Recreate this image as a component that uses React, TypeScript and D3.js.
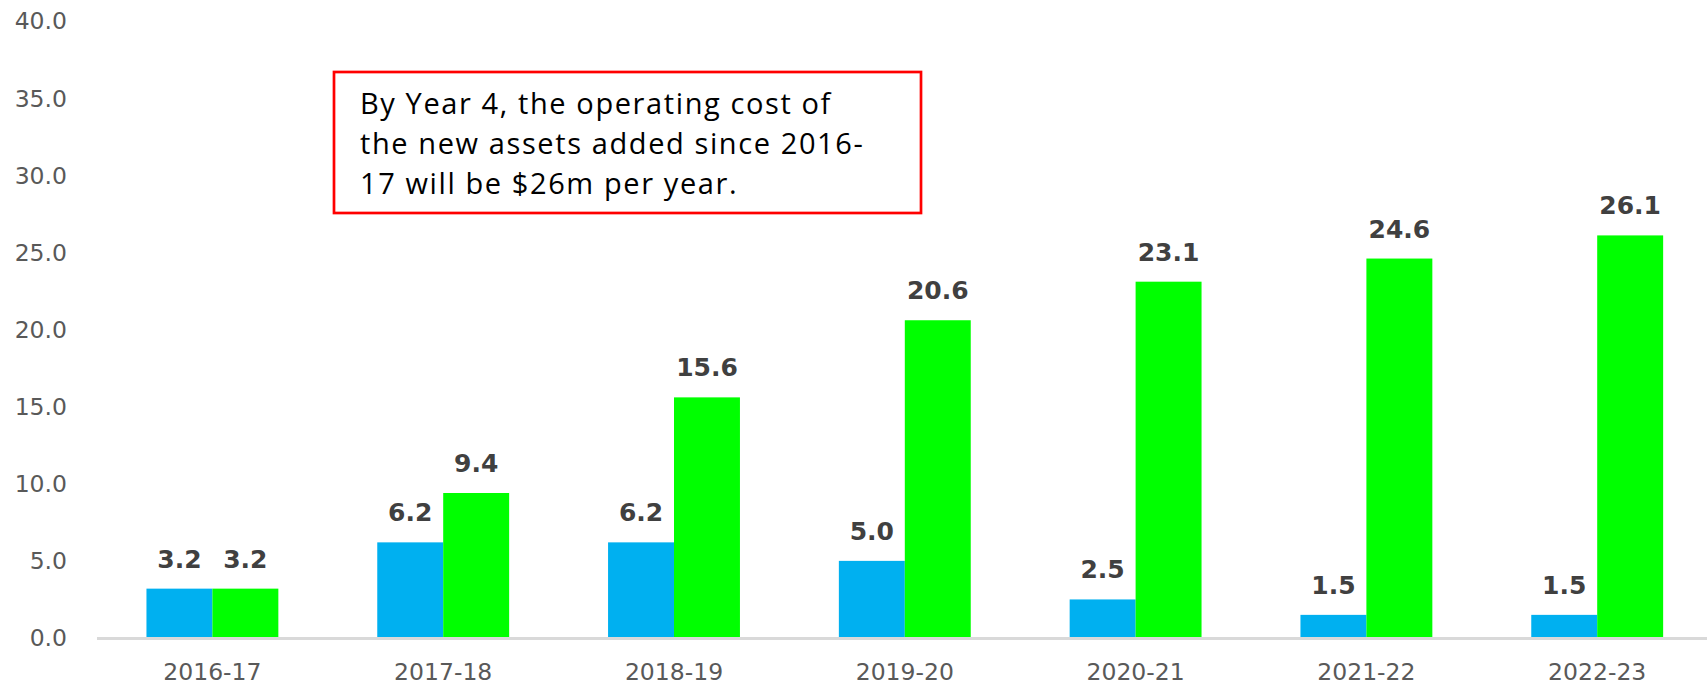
import React from "react";
import * as d3 from "d3";

const categories = ["2016-17", "2017-18", "2018-19", "2019-20", "2020-21", "2021-22", "2022-23"];
const blueValues = [3.2, 6.2, 6.2, 5.0, 2.5, 1.5, 1.5];
const greenValues = [3.2, 9.4, 15.6, 20.6, 23.1, 24.6, 26.1];
const yTicks = [0, 5, 10, 15, 20, 25, 30, 35, 40];
const noteLines = [
  "By Year 4, the operating cost of",
  "the new assets added since 2016-",
  "17 will be $26m per year.",
];

const W = 1707;
const H = 686;

export default function App() {
  const x = d3.scaleBand<string>().domain(categories).range([97, 97 + 7 * 230.8]).padding(0);
  const y = d3.scaleLinear().domain([0, 40]).range([638, 21]);
  const step = x.step();
  const barW = step / 3.5;
  const series = [
    { values: blueValues, color: "#00B0F0", offset: -barW },
    { values: greenValues, color: "#00FF00", offset: 0 },
  ];
  const fmt = d3.format(".1f");

  return (
    <svg width={W} height={H} style={{ position: "absolute", left: 0, top: 0, background: "#fff" }}>
      {/* y tick labels */}
      {yTicks.map((t) => (
        <text
          key={t}
          x={67}
          y={y(t)}
          dy="0.36em"
          textAnchor="end"
          fontFamily="DejaVu Sans, Verdana, sans-serif"
          fontSize={23.5}
          fill="#595959"
        >
          {fmt(t)}
        </text>
      ))}
      {/* bars */}
      {series.map((s, si) =>
        categories.map((c, i) => {
          const cx = (x(c) as number) + step / 2;
          return (
            <rect
              key={`b${si}-${i}`}
              x={cx + s.offset}
              y={y(s.values[i])}
              width={barW}
              height={y(0) - y(s.values[i])}
              fill={s.color}
            />
          );
        })
      )}
      {/* axis line */}
      <line x1={97} x2={W} y1={y(0) + 0.5} y2={y(0) + 0.5} stroke="#D9D9D9" strokeWidth={3} />
      {/* value labels */}
      {series.map((s, si) =>
        categories.map((c, i) => {
          const cx = (x(c) as number) + step / 2 + s.offset + barW / 2;
          return (
            <text
              key={`l${si}-${i}`}
              x={cx}
              y={y(s.values[i]) - 21}
              textAnchor="middle"
              fontFamily="DejaVu Sans, Verdana, sans-serif"
              fontWeight="bold"
              fontSize={25}
              fill="#404040"
            >
              {fmt(s.values[i])}
            </text>
          );
        })
      )}
      {/* category labels */}
      {categories.map((c) => (
        <text
          key={c}
          x={(x(c) as number) + step / 2}
          y={680}
          textAnchor="middle"
          fontFamily="DejaVu Sans, Verdana, sans-serif"
          fontSize={23.5}
          fill="#595959"
        >
          {c}
        </text>
      ))}
      {/* annotation box */}
      <rect x={334} y={72} width={587} height={141} fill="#fff" stroke="#FF0000" strokeWidth={2.7} />
      {noteLines.map((l, i) => (
        <text
          key={i}
          x={360}
          y={114 + i * 40}
          fontFamily="Open Sans, sans-serif"
          fontSize={29}
          letterSpacing={1.6}
          fill="#000"
        >
          {l}
        </text>
      ))}
    </svg>
  );
}
